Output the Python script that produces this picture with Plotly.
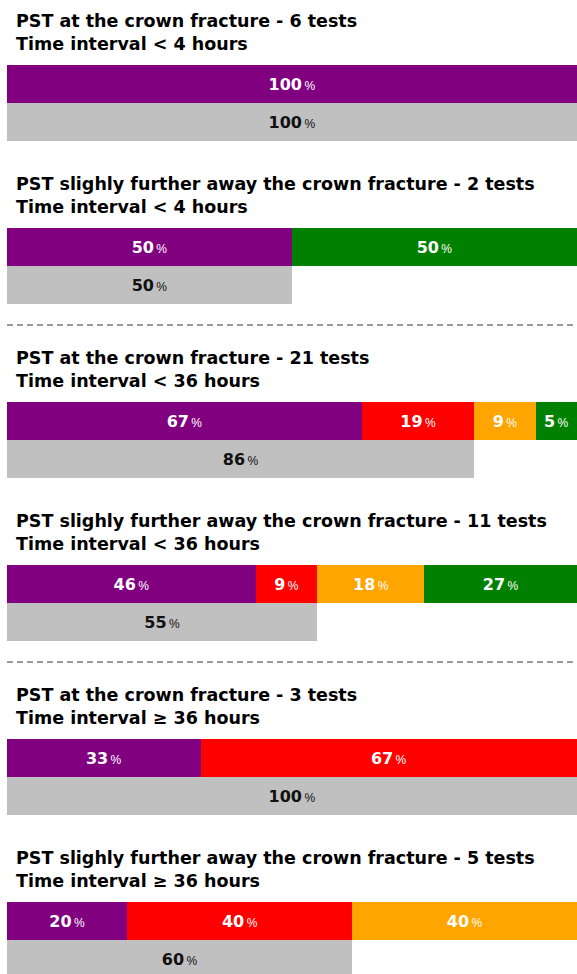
import plotly.graph_objects as go

# ---- data (percent labels as shown) ----
titles = [
    "PST at the crown fracture - 6 tests",
    "PST slighly further away the crown fracture - 2 tests",
    "PST at the crown fracture - 21 tests",
    "PST slighly further away the crown fracture - 11 tests",
    "PST at the crown fracture - 3 tests",
    "PST slighly further away the crown fracture - 5 tests",
]
intervals = [
    "Time interval < 4 hours",
    "Time interval < 4 hours",
    "Time interval < 36 hours",
    "Time interval < 36 hours",
    "Time interval ≥ 36 hours",
    "Time interval ≥ 36 hours",
]
purple = [100, 50, 67, 46, 33, 20]
red = [None, None, 19, 9, 67, 40]
orange = [None, None, 9, 18, None, 40]
green = [None, 50, 5, 27, None, None]
gray = [100, 50, 86, 55, 100, 60]

SEGMENTS = [
    ("purple", purple, "#800080"),
    ("red", red, "#ff0000"),
    ("orange", orange, "#ffa500"),
    ("green", green, "#008000"),
]

# ---- layout constants (pixels) ----
W, H = 577, 974
X0 = 7
TOTAL = W - X0          # full bar length in px
PAD = 16                # horizontal padding each segment carries
BAR_H = 38
FONT = "DejaVu Sans, Verdana, sans-serif"


def offset(i):
    return i * 163 + (i // 2) * 11


top_y = [offset(i) + 84 for i in range(6)]
gray_y = [offset(i) + 122 for i in range(6)]


def lengths(i):
    """Segment lengths like a flex row: share of width plus fixed padding."""
    vals = [seg[1][i] for seg in SEGMENTS]
    n = sum(v is not None for v in vals)
    inner = TOTAL - n * PAD
    return [None if v is None else v / 100 * inner + PAD for v in vals]


seg_len = [lengths(i) for i in range(6)]


def label(v):
    return (f"<b>{v}</b><span style='font-size:12px;font-family:Liberation Sans'>"
            f"\u2009%</span>")


fig = go.Figure()

for k, (name, vals, color) in enumerate(SEGMENTS):
    xs = [seg_len[i][k] for i in range(6)]
    fig.add_trace(go.Bar(
        orientation="h",
        y=top_y, x=xs, width=BAR_H,
        marker=dict(color=color, line_width=0),
        text=[label(v) if v is not None else "" for v in vals],
        textposition="inside", insidetextanchor="middle",
        constraintext="none",
        textfont=dict(color="#ffffff", size=16, family=FONT),
        hoverinfo="skip", name=name,
    ))

# gray bar spans purple + red segments
gx = [(seg_len[i][0] or 0) + (seg_len[i][1] or 0) for i in range(6)]
fig.add_trace(go.Bar(
    orientation="h",
    y=gray_y, x=gx, width=BAR_H,
    marker=dict(color="#c0c0c0", line_width=0),
    text=[label(v) for v in gray],
    textposition="inside", insidetextanchor="middle",
    constraintext="none",
    textfont=dict(color="#111111", size=16, family=FONT),
    hoverinfo="skip", name="gray",
))

for i in range(6):
    fig.add_annotation(
        x=14 / W, xref="paper", xanchor="left",
        y=offset(i) + 32, yref="y", yanchor="middle",
        text=f"<b>{titles[i]}<br>{intervals[i]}</b>",
        align="left", showarrow=False,
        font=dict(size=17.5, color="#000000", family=FONT),
    )

# dashed separators between the interval groups
for i in (1, 3):
    fig.add_shape(
        type="line", xref="paper", yref="y",
        x0=X0 / W, x1=1, y0=offset(i) + 162, y1=offset(i) + 162,
        line=dict(color="#999999", width=2, dash="6px,4px"),
    )

fig.update_layout(
    width=W, height=H,
    margin=dict(l=0, r=0, t=0, b=0),
    barmode="stack",
    showlegend=False,
    paper_bgcolor="white", plot_bgcolor="white",
    xaxis=dict(range=[0, TOTAL], domain=[X0 / W, 1], visible=False, fixedrange=True),
    yaxis=dict(range=[H, 0], visible=False, fixedrange=True),
)

# the figure fills the whole window, so drop the page's default body margin
fig.write_html(
    "out.html",
    config={"displayModeBar": False},
    post_script="document.body.style.margin = '0';",
)
